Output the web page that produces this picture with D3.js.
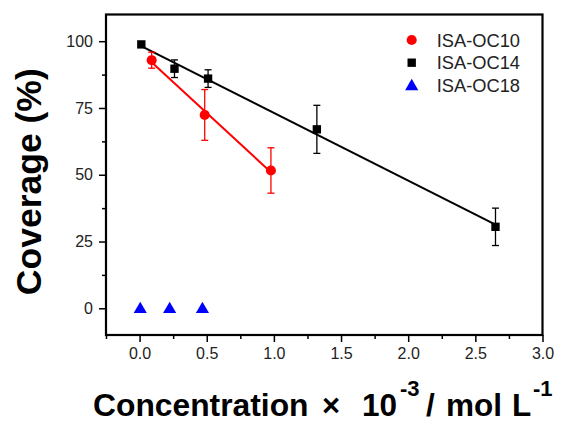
<!DOCTYPE html>
<html>
<head>
<meta charset="utf-8">
<script src="https://cdn.jsdelivr.net/npm/d3@7"></script>
<style>
  body { margin: 0; background: #fff; }
  svg { font-family: "Liberation Sans", Arial, sans-serif; }
</style>
</head>
<body>
<div id="chart"></div>
<script>
// data
var oc10X = [0.09, 0.485, 0.978];
var oc10Y = [92.9, 72.4, 51.6];
var oc10Err = [3, 9.5, 8.5];

var oc14X = [0.013, 0.26, 0.51, 1.32, 2.65];
var oc14Y = [98.8, 89.7, 86, 67, 30.5];
var oc14Err = [1, 3.3, 3.3, 9, 7];

var oc18X = [0.005, 0.224, 0.468];
var oc18Y = [0, 0, 0];

var xTicks = [0, 0.5, 1.0, 1.5, 2.0, 2.5, 3.0];
var yTicks = [0, 25, 50, 75, 100];
var seriesNames = ["ISA-OC10", "ISA-OC14", "ISA-OC18"];

var margin = { top: 14.5, right: 24.5, bottom: 88, left: 106 },
  width = 567 - margin.left - margin.right,
  height = 423 - margin.top - margin.bottom;

var svg = d3
  .select("#chart")
  .append("svg")
  .attr("width", 567)
  .attr("height", 423);

var g = svg
  .append("g")
  .attr("transform", "translate(" + margin.left + "," + margin.top + ")");

var x = d3.scaleLinear().domain([-0.25, 3.0]).range([0, width]);
var y = d3.scaleLinear().domain([-10, 110]).range([height, 0]);

// minor ticks
var xMinor = d3.range(-0.25, 3.01, 0.25).filter(function (d) {
  return Math.abs(d * 2 - Math.round(d * 2)) > 0.01;
});
var yMinor = [12.5, 37.5, 62.5, 87.5];

g.append("g")
  .attr("transform", "translate(0," + height + ")")
  .call(d3.axisBottom(x).tickValues(xMinor).tickSize(4).tickFormat(""))
  .call(function (s) { s.select(".domain").remove(); })
  .selectAll("line").attr("stroke-width", 1.5);

g.append("g")
  .call(d3.axisLeft(y).tickValues(yMinor).tickSize(4).tickFormat(""))
  .call(function (s) { s.select(".domain").remove(); })
  .selectAll("line").attr("stroke-width", 1.5);

// X axis
var xAxis = g
  .append("g")
  .attr("transform", "translate(0," + height + ")")
  .call(d3.axisBottom(x).tickValues(xTicks).tickSize(7).tickPadding(6).tickFormat(d3.format(".1f")));
xAxis.select(".domain").remove();
xAxis.selectAll("line").attr("stroke-width", 1.5);
xAxis.selectAll("text").attr("font-size", 16).attr("fill", "#222")
  .attr("font-family", "Liberation Sans, Arial, sans-serif");

// Y axis
var yAxis = g
  .append("g")
  .call(d3.axisLeft(y).tickValues(yTicks).tickSize(7).tickPadding(6));
yAxis.select(".domain").remove();
yAxis.selectAll("line").attr("stroke-width", 1.5);
yAxis.selectAll("text").attr("font-size", 16).attr("fill", "#222")
  .attr("font-family", "Liberation Sans, Arial, sans-serif");

// frame
g.append("rect")
  .attr("x", 0)
  .attr("y", 0)
  .attr("width", width)
  .attr("height", height)
  .attr("fill", "none")
  .attr("stroke", "#000")
  .attr("stroke-width", 2.2);

// linear fit line from min x to max x
function fitLine(xs, ys) {
  var mx = d3.mean(xs), my = d3.mean(ys);
  var sxy = d3.sum(xs, function (d, i) { return (d - mx) * (ys[i] - my); });
  var sxx = d3.sum(xs, function (d) { return (d - mx) * (d - mx); });
  var b = sxy / sxx, a = my - b * mx;
  var x0 = d3.min(xs), x1 = d3.max(xs);
  return [[x0, a + b * x0], [x1, a + b * x1]];
}

var line = d3.line()
  .x(function (d) { return x(d[0]); })
  .y(function (d) { return y(d[1]); });

g.append("path")
  .datum(fitLine(oc14X, oc14Y))
  .attr("d", line)
  .attr("stroke", "#000")
  .attr("stroke-width", 2)
  .attr("fill", "none");

g.append("path")
  .datum(fitLine(oc10X, oc10Y))
  .attr("d", line)
  .attr("stroke", "#f00")
  .attr("stroke-width", 2)
  .attr("fill", "none");

// error bars
function errorBars(xs, ys, errs, color) {
  var data = xs.map(function (d, i) { return { x: d, y: ys[i], e: errs[i] }; });
  var eg = g.append("g").attr("stroke", color).attr("stroke-width", 1.3);
  eg.selectAll(".v").data(data).enter().append("line")
    .attr("x1", function (d) { return x(d.x); })
    .attr("x2", function (d) { return x(d.x); })
    .attr("y1", function (d) { return y(d.y - d.e); })
    .attr("y2", function (d) { return y(d.y + d.e); });
  [-1, 1].forEach(function (s) {
    eg.selectAll(".c" + s).data(data).enter().append("line")
      .attr("x1", function (d) { return x(d.x) - 3.5; })
      .attr("x2", function (d) { return x(d.x) + 3.5; })
      .attr("y1", function (d) { return y(d.y + s * d.e); })
      .attr("y2", function (d) { return y(d.y + s * d.e); });
  });
}
errorBars(oc14X, oc14Y, oc14Err, "#000");
errorBars(oc10X, oc10Y, oc10Err, "#f00");

// markers
var circle = d3.symbol().type(d3.symbolCircle).size(80);
var square = d3.symbol().type(d3.symbolSquare).size(70);
var triangle = d3.symbol().type(d3.symbolTriangle).size(75);

g.selectAll(".oc14").data(oc14X).enter().append("path")
  .attr("d", square)
  .attr("transform", function (d, i) { return "translate(" + x(d) + "," + y(oc14Y[i]) + ")"; })
  .attr("fill", "#000");

g.selectAll(".oc10").data(oc10X).enter().append("path")
  .attr("d", circle)
  .attr("transform", function (d, i) { return "translate(" + x(d) + "," + y(oc10Y[i]) + ")"; })
  .attr("fill", "#f00");

g.selectAll(".oc18").data(oc18X).enter().append("path")
  .attr("d", triangle)
  .attr("transform", function (d, i) { return "translate(" + x(d) + "," + (y(oc18Y[i]) + 1) + ")"; })
  .attr("fill", "#00f");

// legend
var legendSymbols = [circle, square, triangle];
var legendColors = ["#f00", "#000", "#00f"];
var legend = svg.append("g").attr("transform", "translate(411.7,40)");
legend.selectAll("path").data(seriesNames).enter().append("path")
  .attr("d", function (d, i) { return legendSymbols[i](); })
  .attr("transform", function (d, i) { return "translate(0," + (i * 22.7 + (i === 2 ? 1 : 0)) + ")"; })
  .attr("fill", function (d, i) { return legendColors[i]; });
legend.selectAll("text").data(seriesNames).enter().append("text")
  .attr("x", 25)
  .attr("y", function (d, i) { return i * 22.7 + 6.5; })
  .attr("font-size", 18.3)
  .attr("fill", "#222")
  .text(function (d) { return d; });

// x axis title, pieces placed as in the picture
var xTitle = [
  { t: "Concentration", x: 93, size: 31.8, dy: 0 },
  { t: "\u00d7", x: 322, size: 31, dy: 0 },
  { t: "10", x: 362, size: 31.5, dy: 0 },
  { t: "-3", x: 400, size: 22, dy: -20 },
  { t: "/", x: 426, size: 31.5, dy: 0 },
  { t: "mol", x: 446, size: 31.5, dy: 0 },
  { t: "L", x: 512, size: 31.5, dy: 0 },
  { t: "-1", x: 533, size: 22, dy: -20 }
];
svg.append("g").selectAll("text").data(xTitle).enter().append("text")
  .attr("x", function (d) { return d.x; })
  .attr("y", function (d) { return 416 + d.dy; })
  .attr("font-size", function (d) { return d.size; })
  .attr("font-weight", "bold")
  .attr("fill", "#000")
  .text(function (d) { return d.t; });

svg.append("text")
  .attr("transform", "translate(41,181.7) rotate(-90)")
  .attr("text-anchor", "middle")
  .attr("font-size", 35.5)
  .attr("font-weight", "bold")
  .attr("fill", "#000")
  .text("Coverage (%)");
</script>
</body>
</html>
